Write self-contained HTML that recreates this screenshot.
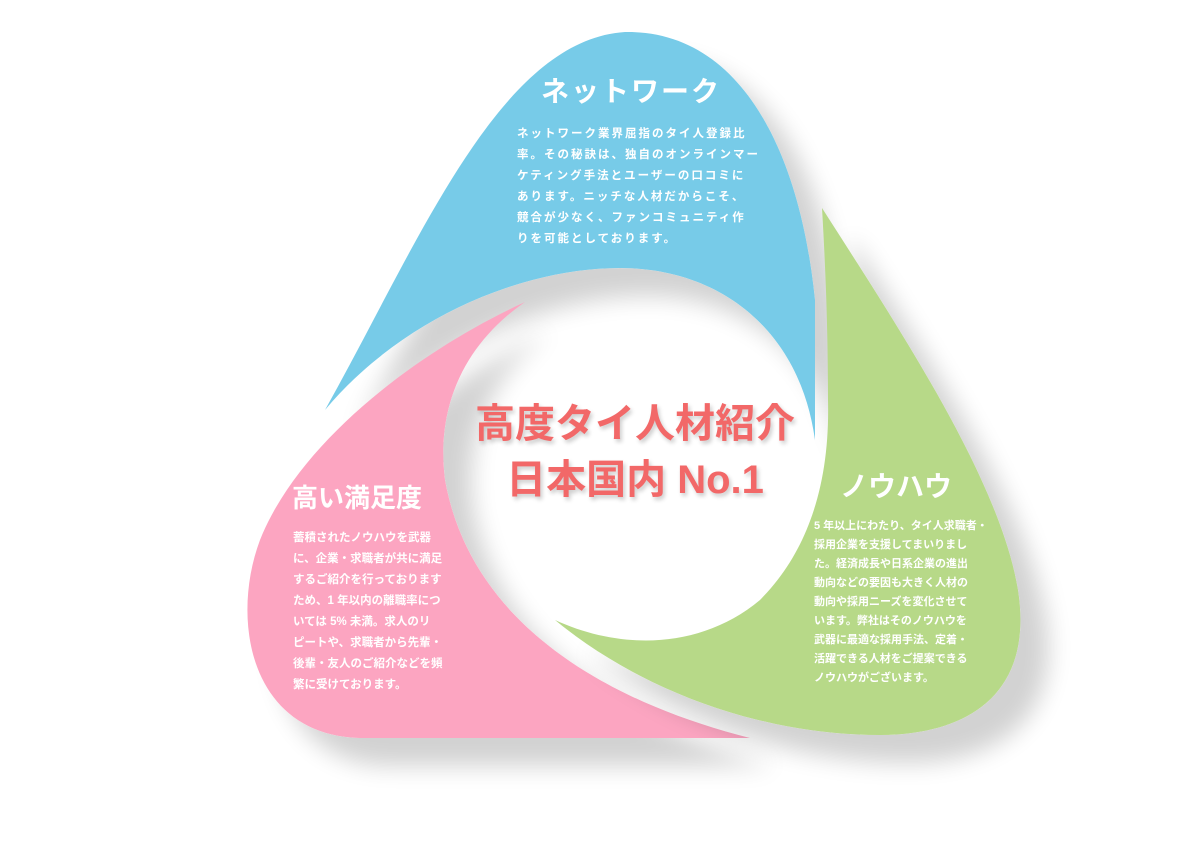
<!DOCTYPE html>
<html><head><meta charset="utf-8">
<style>
body{margin:0;width:1191px;height:842px;background:#fff;position:relative;overflow:hidden;font-family:"Liberation Sans","Noto Sans CJK JP",sans-serif;}
.t{position:absolute;color:#fff;font-weight:bold;white-space:nowrap;}
.b{position:absolute;color:#fff;font-size:11.5px;white-space:nowrap;font-weight:bold;}
.c{position:absolute;color:#f26868;font-weight:bold;font-size:40px;text-align:center;width:400px;left:435px;text-shadow:2px 3px 4px rgba(0,0,0,0.2);line-height:56px;}
</style></head><body>
<svg width="1191" height="842" style="position:absolute;left:0;top:0">
<defs>
<filter id="sh" x="-20%" y="-20%" width="150%" height="150%">
<feGaussianBlur in="SourceAlpha" stdDeviation="12"/>
<feOffset dx="28" dy="28" result="o"/>
<feComponentTransfer><feFuncA type="linear" slope="0.18"/></feComponentTransfer>
<feMerge><feMergeNode/><feMergeNode in="SourceGraphic"/></feMerge>
</filter>
</defs>
<g filter="url(#sh)">
<path fill="#77cbe8" d="M325,410 C420,240 500,40 625,32 C740,30 800,150 815,300 L815,440 C800,330 720,268 620,268 C520,268 400,320 325,410 Z"/>
</g>
<g filter="url(#sh)">
<path fill="#fca5c1" d="M525,302 C420,350 300,440 260,540 C230,620 250,735 360,738 L750,738 C600,700 470,620 445,480 C435,400 470,340 525,302 Z"/>
</g>
<g filter="url(#sh)">
<path fill="#b7d988" d="M822,208 C900,330 1000,480 1018,590 C1035,700 960,735 880,735 C760,735 640,690 555,620 C620,650 700,650 760,600 C810,550 830,480 828,400 C828,320 825,260 822,208 Z"/>
</g>
</svg>
<div class="t" style="left:541px;top:70px;font-size:28px;letter-spacing:2px">ネットワーク</div>
<div class="b" style="left:517px;top:124px;line-height:21px;letter-spacing:2px">ネットワーク業界屈指のタイ人登録比<br>率。その秘訣は、独自のオンラインマー<br>ケティング手法とユーザーの口コミに<br>あります。ニッチな人材だからこそ、<br>競合が少なく、ファンコミュニティ作<br>りを可能としております。</div>
<div class="t" style="left:292px;top:478px;font-size:26px">高い満足度</div>
<div class="b" style="left:293px;top:528px;line-height:21px">蓄積されたノウハウを武器<br>に、企業・求職者が共に満足<br>するご紹介を行っております<br>ため、1 年以内の離職率につ<br>いては 5% 未満。求人のリ<br>ピートや、求職者から先輩・<br>後輩・友人のご紹介などを頻<br>繁に受けております。</div>
<div class="t" style="left:840px;top:465px;font-size:28px">ノウハウ</div>
<div class="b" style="left:814px;top:517px;line-height:19px;font-size:11px">5 年以上にわたり、タイ人求職者・<br>採用企業を支援してまいりまし<br>た。経済成長や日系企業の進出<br>動向などの要因も大きく人材の<br>動向や採用ニーズを変化させて<br>います。弊社はそのノウハウを<br>武器に最適な採用手法、定着・<br>活躍できる人材をご提案できる<br>ノウハウがございます。</div>
<div class="c" style="top:396px">高度タイ人材紹介<br>日本国内 No.1</div>
</body></html>
